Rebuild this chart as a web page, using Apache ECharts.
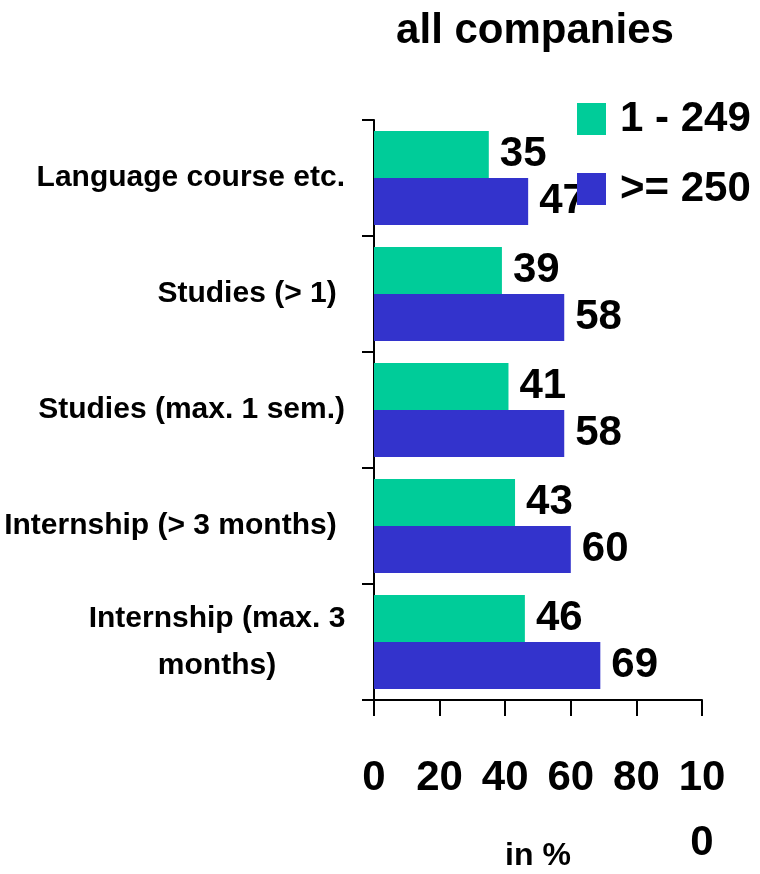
<!DOCTYPE html>
<html>
<head>
<meta charset="utf-8">
<script src="https://cdn.jsdelivr.net/npm/echarts@6/dist/echarts.min.js"></script>
<style>
  html, body { margin: 0; padding: 0; background: #fff; }
  #chart { width: 760px; height: 874px; }
</style>
</head>
<body>
<div id="chart"></div>
<script>
const categories = [
  "Language course etc.",
  "Studies (> 1) ",
  "Studies (max. 1 sem.)",
  "Internship (> 3 months) ",
  "Internship (max. 3\nmonths)"
];
const smallCompanies = [35, 39, 41, 43, 46];
const largeCompanies = [47, 58, 58, 60, 69];
const seriesNames = ["1 - 249", ">= 250"];
const font = "'Liberation Sans', Arial, sans-serif";

const chart = echarts.init(document.getElementById("chart"));

function valueLabel() {
  return {
    show: true,
    position: "right",
    distance: 11,
    fontFamily: font,
    fontWeight: "bold",
    fontSize: 42,
    color: "#000"
  };
}

const option = {
  animation: false,
  title: {
    text: "all companies",
    left: 530,
    textAlign: "center",
    top: 5,
    textStyle: {
      fontFamily: font,
      fontWeight: "bold",
      fontSize: 42,
      color: "#000"
    }
  },
  legend: {
    orient: "vertical",
    left: 577,
    top: 98,
    padding: 0,
    itemWidth: 29,
    itemHeight: 32,
    itemGap: 28,
    icon: "rect",
    textStyle: {
      fontFamily: font,
      fontWeight: "bold",
      fontSize: 42,
      padding: [0, 0, 0, 9],
      color: "#000"
    },
    data: seriesNames
  },
  grid: {
    left: 374,
    right: 58,
    top: 120,
    bottom: 174,
    containLabel: false,
    outerBoundsMode: "none"
  },
  xAxis: {
    type: "value",
    min: 0,
    max: 100,
    interval: 20,
    name: "in %",
    nameLocation: "middle",
    nameGap: 140,
    nameMoveOverlap: false,
    nameTextStyle: {
      fontFamily: font,
      fontWeight: "bold",
      fontSize: 32,
      color: "#000"
    },
    splitLine: { show: false },
    axisLine: { show: true, lineStyle: { color: "#000", width: 2 } },
    axisTick: { show: true, length: 16, lineStyle: { color: "#000", width: 2 } },
    axisLabel: {
      margin: 46,
      hideOverlap: false,
      showMaxLabel: true,
      fontFamily: font,
      fontWeight: "bold",
      fontSize: 42,
      lineHeight: 65,
      verticalAlign: "top",
      color: "#000",
      formatter: v => (v === 100 ? "10\n0" : String(v))
    }
  },
  yAxis: {
    type: "category",
    inverse: true,
    data: categories,
    axisLine: { show: true, lineStyle: { color: "#000", width: 2 } },
    axisTick: { show: true, length: 12, lineStyle: { color: "#000", width: 2 } },
    axisLabel: {
      margin: 29,
      interval: 0,
      fontFamily: font,
      fontWeight: "bold",
      fontSize: 30,
      lineHeight: 47,
      color: "#000",
      formatter: v => {
        if (v.indexOf("\n") >= 0) {
          return v.split("\n").map(s => "{c|" + s + "}").join("\n");
        }
        return v;
      },
      rich: {
        c: {
          width: 256,
          align: "center",
          fontFamily: font,
          fontWeight: "bold",
          fontSize: 30,
          lineHeight: 47,
          color: "#000"
        }
      }
    }
  },
  series: [
    {
      name: seriesNames[0],
      type: "bar",
      data: smallCompanies,
      barGap: "0%",
      barCategoryGap: "19%",
      itemStyle: { color: "#00CC99" },
      label: valueLabel()
    },
    {
      name: seriesNames[1],
      type: "bar",
      data: largeCompanies,
      barGap: "0%",
      barCategoryGap: "19%",
      itemStyle: { color: "#3333CC" },
      label: valueLabel()
    }
  ]
};

chart.setOption(option);
</script>
</body>
</html>
